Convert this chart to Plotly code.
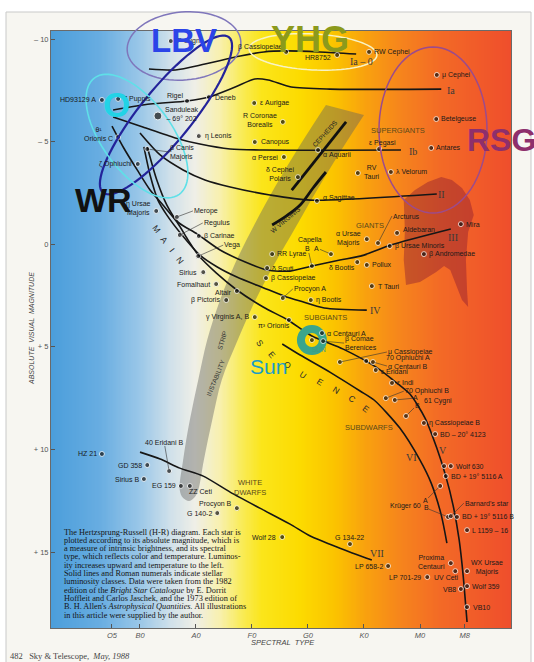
import numpy as np
import plotly.graph_objects as go

W, H = 534, 662
M_L, M_R, M_T, M_B = 51, 23, 31, 34
PW, PH = W - M_L - M_R, H - M_T - M_B
X_RANGE = [-0.589, 7.625]          # spectral index: O=0, B=1, A=2, F=3, G=4, K=5, M=6
Y_RANGE = [18.70, -10.39]          # absolute visual magnitude (reversed)

spec_tickvals = [0.5, 1, 2, 3, 4, 5, 6, 6.8]
spec_ticktext = ["O5", "B0", "A0", "F0", "G0", "K0", "M0", "M8"]
mag_tickvals = [-10, -5, 0, 5, 10, 15]
mag_ticktext = ["– 10", "– 5", "0", "+ 5", "+ 10", "+ 15"]

# ---- luminosity-class lines (spectral index, magnitude) ----
Ia0_x = [1.16, 1.63, 2.16, 2.79, 3.21, 3.61, 4.21, 4.86]
Ia0_y = [-8.54, -8.49, -8.78, -9.17, -9.37, -9.42, -9.37, -9.27]
Ia_x = [0.52, 1.18, 1.84, 2.23, 2.70, 3.05, 3.29, 3.70, 4.39, 6.38]
Ia_y = [-6.54, -6.83, -6.98, -7.17, -7.66, -8.05, -8.00, -7.66, -7.56, -7.56]
Ib_x = [0.52, 1.05, 1.63, 2.07, 2.61, 3.21, 5.66]
Ib_y = [-6.20, -5.71, -5.18, -4.88, -4.64, -4.59, -4.59]
II_x = [1.00, 1.36, 1.77, 2.16, 2.61, 3.32, 4.04, 6.30]
II_y = [-5.42, -4.35, -3.62, -3.13, -2.79, -2.40, -2.15, -2.45]
III_x = [1.13, 1.30, 1.48, 1.68, 2.02, 2.43, 2.88, 3.27, 3.68, 4.07, 4.57, 5.00, 5.48, 6.55]
III_y = [-4.74, -3.13, -1.91, -1.08, -0.50, 0.28, 0.87, 1.26, 1.31, 1.06, 0.77, 0.53, 0.04, -0.74]
IV_x = [1.07, 1.18, 1.32, 1.48, 1.75, 2.07, 2.38, 2.73, 3.21, 3.57, 3.86, 4.29, 5.05]
IV_y = [-4.74, -3.37, -2.15, -1.42, -0.45, 0.53, 1.11, 1.60, 2.13, 2.52, 2.77, 3.11, 3.21]
V_x = [0.50, 0.71, 0.95, 1.18, 1.41, 1.66, 1.86, 2.04, 2.36, 2.73, 3.20, 3.64, 4.07, 4.63,
       5.21, 5.52, 5.82, 6.09, 6.30, 6.46, 6.59, 6.70, 6.77, 6.84]
V_y = [-5.76, -4.69, -3.62, -2.64, -1.91, -1.08, -0.20, 0.53, 1.40, 2.23, 3.06, 3.69, 4.47, 5.11,
       5.98, 6.62, 7.30, 8.47, 9.93, 11.30, 12.71, 14.42, 16.12, 18.41]
VI_x = [3.54, 3.86, 4.39, 4.93, 5.18, 5.64, 6.00, 6.20, 6.38, 6.48]
VI_y = [4.86, 5.40, 6.23, 7.15, 7.59, 8.96, 10.52, 11.64, 13.20, 14.56]
VII_x = [1.00, 1.36, 1.71, 2.13, 2.61, 3.14, 3.68, 4.04, 4.57, 5.14]
VII_y = [10.13, 10.47, 10.91, 11.30, 12.08, 12.86, 13.64, 14.22, 14.81, 15.39]
cepheid_x = [4.68, 3.71]
cepheid_y = [-5.96, -2.64]
wvir_x = [4.32, 4.09, 3.86, 3.61, 3.36]
wvir_y = [-3.52, -2.74, -1.91, -1.37, -0.94]

# ---- instability strip and red-supergiant region outlines ----
strip_x = [4.32, 3.86, 3.43, 3.04, 2.71, 2.43, 2.20, 2.04, 1.89, 1.77, 1.71, 1.77, 1.88, 1.98,
           2.04, 2.14, 2.29, 2.46, 2.73, 3.02, 3.34, 3.70, 4.11, 4.54, 5.00]
strip_y = [-6.78, -4.83, -2.88, -0.94, 0.87, 2.72, 4.67, 6.62, 8.57, 10.52, 11.98, 12.37, 12.51, 12.32,
           11.98, 10.52, 8.57, 6.62, 4.77, 2.96, 1.26, -0.45, -2.40, -4.35, -6.30]
rsg_x = [5.71, 5.91, 6.14, 6.38, 6.57, 6.75, 6.89, 6.96, 6.86, 6.82, 6.84, 6.86, 6.75, 6.64,
         6.54, 6.43, 6.29, 6.00, 5.75, 5.71, 5.73]
rsg_y = [-2.15, -2.64, -3.03, -3.27, -3.13, -2.74, -2.15, -1.42, -0.59, 0.77, 2.23, 3.06, 2.72, 1.99,
         1.26, 1.06, 1.35, 1.84, 1.99, 0.77, -0.69]

# ---- stars ----
star_name = ["HD93129 A", "ζ Puppis", "Rigel", "Deneb", "Sanduleak", "η Leonis", "θ1 Orionis C",
             "β Canis Majoris", "ζ Ophiuchi", "η Ursae Majoris", "Merope", "Regulus", "β Carinae",
             "Vega", "Sirius", "Fomalhaut", "Altair", "β Pictoris", "γ Virginis", "π3 Orionis",
             "ε Aurigae", "R Coronae Borealis", "Canopus", "α Persei", "δ Cephei", "β Cassiopeiae",
             "HR8752", "RW Cephei", "P Cygni", "μ Cephei", "Betelgeuse", "Antares", "ε Pegasi",
             "α Aquarii", "RV Tauri", "λ Velorum", "α Sagittae", "Arcturus", "Aldebaran", "Mira",
             "β Ursae Minoris", "β Andromedae", "α Ursae Majoris", "Capella A", "Capella B",
             "RR Lyrae", "δ Scuti", "β Cassiopeiae F", "δ Bootis", "Pollux", "T Tauri", "Procyon A",
             "η Bootis", "α Centauri A", "Sun", "β Comae", "μ Cassiopeiae", "70 Ophiuchi A",
             "α Centauri B", "ε Eridani", "ε Indi", "70 Ophiuchi B", "61 Cygni A", "61 Cygni B",
             "η Cassiopeiae B", "BD-20 4123", "Wolf 630 A", "Wolf 630", "BD+19 5116 A",
             "Krüger 60 A", "Krüger 60 B", "Barnard's star", "BD+19 5116 B", "L 1159-16",
             "G 134-22", "Wolf 28", "LP 658-2", "Proxima Centauri", "WX Ursae Majoris", "UV Ceti",
             "LP 701-29", "Wolf 359", "VB8", "VB10", "HZ 21", "40 Eridani B", "GD 358", "Sirius B",
             "EG 159", "ZZ Ceti", "Procyon B", "G 140-2"]
star_type = [0.32, 0.61, 1.84, 2.23, 1.32, 2.05, 0.61, 1.13, 0.96, 1.29, 1.66, 1.71, 2.05,
             2.04, 2.13, 2.36, 2.73, 2.54, 3.05, 3.66, 3.04, 3.55, 3.05, 3.57, 3.82, 3.61,
             4.52, 5.09, 1.55, 6.30, 6.29, 6.20, 5.27, 4.18, 4.89, 5.48, 4.16, 5.25, 5.59, 6.73,
             5.46, 6.07, 5.05, 4.41, 4.07, 3.36, 3.27, 3.25, 4.88, 5.05, 5.14, 3.55,
             4.05, 4.25, 4.07, 4.27, 4.57, 5.04, 5.16, 5.21, 5.50, 5.39, 5.55, 5.75,
             6.07, 6.27, 6.43, 6.55, 6.46, 6.36, 6.50, 6.55, 6.66, 6.84,
             4.75, 3.54, 5.43, 6.55, 6.84, 6.63, 6.13, 6.84, 6.73, 6.84, 0.32, 1.52, 1.13, 1.07,
             1.73, 1.89, 2.73, 2.38]
star_mag = [-7.03, -7.08, -6.98, -7.17, -6.25, -5.27, -5.22, -4.64, -3.91, -1.62, -1.33, -0.45, -0.40,
            0.58, 1.36, 1.94, 2.28, 2.72, 3.55, 3.69, -6.88, -5.96, -4.98, -4.25, -3.27, -9.37,
            -9.22, -9.37, -9.90, -8.25, -6.10, -4.69, -4.64, -4.59, -3.47, -3.52, -2.11, -0.06, -0.55, -0.98,
            0.09, 0.48, -0.25, 0.48, 1.06, 0.48, 1.16, 1.65, 0.87, 1.01, 2.04, 2.62,
            2.72, 4.33, 4.67, 4.72, 5.74, 5.69, 5.74, 6.13, 6.76, 7.50, 7.59, 8.37,
            8.71, 9.25, 10.81, 10.81, 11.30, 11.78, 13.29, 13.25, 13.29, 13.93,
            14.61, 14.27, 15.68, 15.54, 15.93, 15.93, 16.22, 16.66, 16.80, 17.68, 10.22, 11.05, 10.76, 11.44,
            11.78, 11.78, 12.86, 13.10]

# label styling: name -> (text, side, dx, dy, arrow ax/ay or None)
LBL = {
    "HD93129 A": ("HD93129 A", "l", -5, 0, None),
    "ζ Puppis": ("ζ Puppis", "r", 5, 0, None),
    "Rigel": ("Rigel", "l", -3, 5, None),
    "Deneb": ("Deneb", "r", 5, 0, None),
    "Sanduleak": ("Sanduleak<br>– 69° 202", "r", 6, 2, None),
    "η Leonis": ("η Leonis", "r", 5, 0, None),
    "θ1 Orionis C": ("θ¹<br>Orionis C", "l", -4, 3, None),
    "β Canis Majoris": ("β Canis<br>Majoris", "r", 0, 0, (22, 3)),
    "ζ Ophiuchi": ("ζ Ophiuchi", "l", -5, 0, None),
    "η Ursae Majoris": ("η Ursae<br>Majoris", "l", -4, 2, None),
    "Merope": ("Merope", "r", 0, 0, (16, -6)),
    "Regulus": ("Regulus", "r", 0, 0, (23, -12)),
    "β Carinae": ("β Carinae", "r", 4, 0, None),
    "Vega": ("Vega", "r", 0, 0, (25, -11)),
    "Sirius": ("Sirius", "l", -5, 0, None),
    "Fomalhaut": ("Fomalhaut", "l", -5, 0, None),
    "Altair": ("Altair", "l", -4, -1, None),
    "β Pictoris": ("β Pictoris", "l", -5, 0, None),
    "γ Virginis": ("γ Virginis A, B", "l", -5, 0, None),
    "π3 Orionis": ("π³ Orionis", "l", 2, -6, None),
    "ε Aurigae": ("ε Aurigae", "r", 5, 0, None),
    "R Coronae Borealis": ("R Coronae<br>Borealis", "l", -5, 2, None),
    "Canopus": ("Canopus", "r", 5, 0, None),
    "α Persei": ("α Persei", "l", -5, 0, None),
    "δ Cephei": ("δ Cephei<br>Polaris", "l", -3, 3, None),
    "β Cassiopeiae": ("β Cassiopeiae", "l", -2, 5, None),
    "HR8752": ("HR8752", "l", -5, -2, None),
    "RW Cephei": ("RW Cephei", "r", 4, 0, None),
    "P Cygni": ("P Cygni", "r", 5, 0, None),
    "μ Cephei": ("μ Cephei", "r", 4, 0, None),
    "Betelgeuse": ("Betelgeuse", "r", 4, 0, None),
    "Antares": ("Antares", "r", 4, 0, None),
    "ε Pegasi": ("ε Pegasi", "c", 3, 6, None),
    "α Aquarii": ("α Aquarii", "r", 4, -5, None),
    "RV Tauri": ("RV<br>Tauri", "r", 5, 1, None),
    "λ Velorum": ("λ Velorum", "r", 4, 0, None),
    "α Sagittae": ("α Sagittae", "r", 5, 3, None),
    "Arcturus": ("Arcturus", "r", 0, 0, (14, -27)),
    "Aldebaran": ("Aldebaran", "r", 5, 3, None),
    "Mira": ("Mira", "r", 4, 0, None),
    "β Ursae Minoris": ("β Ursae Minoris", "r", 4, 0, None),
    "β Andromedae": ("β Andromedae", "r", 4, 0, None),
    "α Ursae Majoris": ("α Ursae<br>Majoris", "l", -5, 1, None),
    "Capella A": ("A", "c", 0, 0, (-14, -6)),
    "Capella B": ("B", "c", 0, 0, (-4, -17)),
    "RR Lyrae": ("RR Lyrae", "r", 4, 0, None),
    "δ Scuti": ("δ Scuti", "r", 4, 0, None),
    "β Cassiopeiae F": ("β Cassiopeiae", "r", 4, 0, None),
    "δ Bootis": ("δ Bootis", "l", -1, -5, None),
    "Pollux": ("Pollux", "r", 4, 0, None),
    "T Tauri": ("T Tauri", "r", 5, 0, None),
    "Procyon A": ("Procyon A", "r", 0, 0, (10, -9)),
    "η Bootis": ("η Bootis", "r", 4, 0, None),
    "α Centauri A": ("α Centauri A", "r", 4, 0, None),
    "β Comae": ("β Comae<br>Berenices", "r", 0, 0, (21, 2)),
    "μ Cassiopeiae": ("μ Cassiopeiae", "r", 0, 0, (47, -10)),
    "70 Ophiuchi A": ("70 Ophiuchi A", "r", 19, 3, None),
    "α Centauri B": ("α Centauri B", "r", 0, 0, (14, 4)),
    "ε Eridani": ("ε Eridani", "r", 4, -1, None),
    "ε Indi": ("ε Indi", "r", 4, 0, None),
    "70 Ophiuchi B": ("70 Ophiuchi B", "r", 0, 0, (18, -7)),
    "61 Cygni A": ("A", "c", 0, 0, (21, -2)),
    "61 Cygni B": ("B", "c", 0, 0, (11, -11)),
    "η Cassiopeiae B": ("η Cassiopeiae B", "r", 4, 0, None),
    "BD-20 4123": ("BD – 20° 4123", "r", 4, 0, None),
    "Wolf 630": ("Wolf 630", "r", 4, 0, None),
    "BD+19 5116 A": ("BD + 19° 5116 A", "r", 4, 0, None),
    "Krüger 60 A": ("A", "c", 0, 0, (-15, 15)),
    "Krüger 60 B": ("B", "c", 0, 0, (-22, -9)),
    "Barnard's star": ("Barnard's star", "r", 0, 0, (13, -13)),
    "BD+19 5116 B": ("BD + 19° 5116 B", "r", 4, 0, None),
    "L 1159-16": ("L 1159 – 16", "r", 4, 0, None),
    "G 134-22": ("G 134-22", "c", 0, 7, None),
    "Wolf 28": ("Wolf 28", "l", -5, 0, None),
    "LP 658-2": ("LP 658-2", "l", -4, 0, None),
    "Proxima Centauri": ("Proxima<br>Centauri", "l", -5, 1, None),
    "WX Ursae Majoris": ("WX Ursae<br>Majoris", "r", 3, 4, None),
    "UV Ceti": ("UV Ceti", "l", 5, -6, None),
    "LP 701-29": ("LP 701-29", "l", -5, 0, None),
    "Wolf 359": ("Wolf 359", "r", 4, 0, None),
    "VB8": ("VB8", "l", -4, 0, None),
    "VB10": ("VB10", "r", 5, 0, None),
    "HZ 21": ("HZ 21", "l", -4, 0, None),
    "40 Eridani B": ("40 Eridani B", "c", 0, 0, (-5, -29)),
    "GD 358": ("GD 358", "l", -4, 0, None),
    "Sirius B": ("Sirius B", "l", -4, 0, None),
    "EG 159": ("EG 159", "l", -4, 0, None),
    "ZZ Ceti": ("ZZ Ceti", "r", -2, -6, None),
    "Procyon B": ("Procyon B", "l", -4, 4, None),
    "G 140-2": ("G 140-2", "l", -4, 0, None),
}
# extra group captions anchored to stars: (star, text, side, dx, dy)
EXTRA = [("Capella B", "Capella", "c", -2, 26), ("61 Cygni A", "61 Cygni", "r", 28, -1),
         ("Krüger 60 B", "Krüger 60", "l", -26, 11)]

# ---- region / class captions (spectral index, magnitude) ----
class_text = ["Ia – 0", "Ia", "Ib", "II", "III", "IV", "V", "VI", "VII"]
class_x = [4.95, 6.55, 5.88, 6.39, 6.59, 5.21, 6.41, 5.84, 5.23]
class_y = [-8.88, -7.51, -4.54, -2.40, -0.35, 3.21, 10.03, 10.37, 15.05]
group_text = ["SUPERGIANTS", "GIANTS", "SUBGIANTS", "SUBDWARFS", "WHITE<br>DWARFS"]
group_x = [5.61, 5.11, 4.32, 5.09, 2.96]
group_y = [-5.52, -0.89, 3.55, 8.91, 11.83]
main_letters = ["M", "A", "I", "N"]
main_x = [1.30, 1.43, 1.57, 1.71]
main_y = [-0.74, -0.20, 0.28, 0.77]
seq_letters = ["S", "E", "Q", "U", "E", "N", "C", "E"]
seq_x = [3.14, 3.36, 3.63, 3.91, 4.21, 4.50, 4.79, 5.04]
seq_y = [4.81, 5.40, 5.89, 6.37, 6.72, 7.11, 7.54, 8.03]

caption = [
    "The Hertzsprung-Russell (H-R) diagram. Each star is",
    "plotted according to its absolute magnitude, which is",
    "a measure of intrinsic brightness, and its spectral",
    "type, which reflects color and temperature. Luminos-",
    "ity increases upward and temperature to the left.",
    "Solid lines and Roman numerals indicate stellar",
    "luminosity classes. Data were taken from the 1982",
    "edition of the <i>Bright Star Catalogue</i> by E. Dorrit",
    "Hoffleit and Carlos Jaschek, and the 1973 edition of",
    "B. H. Allen's <i>Astrophysical Quantities.</i> All illustrations",
    "in this article were supplied by the author.",
]

# ---------------------------------------------------------------


def to_paper(x, y):
    return (x - X_RANGE[0]) / (X_RANGE[1] - X_RANGE[0]), (y - Y_RANGE[0]) / (Y_RANGE[1] - Y_RANGE[0])


def px_paper(px, py):
    return (px - M_L) / PW, (H - M_B - py) / PH


def ellipse_path(cx, cy, rx, ry, ang):
    xp0, yp0 = to_paper(cx, cy)
    t = np.linspace(0, 2 * np.pi, 81)
    a = np.radians(ang)
    dx = rx * np.cos(t) * np.cos(a) - ry * np.sin(t) * np.sin(a)
    dy = rx * np.cos(t) * np.sin(a) + ry * np.sin(t) * np.cos(a)
    xs = xp0 + dx / PW
    ys = yp0 - dy / PH
    return "M " + " L ".join(f"{x:.5f},{y:.5f}" for x, y in zip(xs, ys)) + " Z"


fig = go.Figure()

# background colour gradient
bg_stop_x = [-0.589, 0.286, 1.0, 1.536, 1.982, 2.429, 2.786, 3.179, 3.857, 4.482, 5.018, 5.643, 6.357, 7.625]
bg_stop_c = ["#4b9edb", "#68ade1", "#9ac7e8", "#cfe0ea", "#efefe7", "#f8f0ae", "#f9ec5e", "#fbe51a",
             "#fcdb00", "#fbc300", "#f9a20e", "#f6851c", "#f36a26", "#ef4e2c"]
bg_scale = [[(v - X_RANGE[0]) / (X_RANGE[1] - X_RANGE[0]), c] for v, c in zip(bg_stop_x, bg_stop_c)]
bg_x = np.linspace(X_RANGE[0], X_RANGE[1], 400)
fig.add_trace(go.Heatmap(x=bg_x, y=[Y_RANGE[1], Y_RANGE[0]], z=[bg_x, bg_x], colorscale=bg_scale,
                         zmin=X_RANGE[0], zmax=X_RANGE[1], showscale=False, hoverinfo="skip"))

fig.add_trace(go.Scatter(x=strip_x, y=strip_y, fill="toself", fillcolor="rgba(95,95,95,0.42)",
                         mode="lines", line=dict(width=0, shape="spline"), hoverinfo="skip"))
fig.add_trace(go.Scatter(x=rsg_x, y=rsg_y, fill="toself", fillcolor="rgba(135,25,50,0.42)",
                         mode="lines", line=dict(width=0), hoverinfo="skip"))

for lx, ly in [(Ia0_x, Ia0_y), (Ia_x, Ia_y), (Ib_x, Ib_y), (II_x, II_y), (III_x, III_y),
               (IV_x, IV_y), (V_x, V_y), (VI_x, VI_y), (VII_x, VII_y)]:
    fig.add_trace(go.Scatter(x=lx, y=ly, mode="lines", hoverinfo="skip",
                             line=dict(color="#161616", width=1.6, shape="spline", smoothing=0.7)))
for lx, ly in [(cepheid_x, cepheid_y), (wvir_x, wvir_y)]:
    fig.add_trace(go.Scatter(x=lx, y=ly, mode="lines", hoverinfo="skip",
                             line=dict(color="#111", width=2.8, shape="spline")))

# Sun ring
si = star_name.index("Sun")
fig.add_trace(go.Scatter(x=[star_type[si]], y=[star_mag[si]], mode="markers", hoverinfo="skip",
                         marker=dict(symbol="circle-open", size=22, color="#3aa58c", line=dict(width=8))))
# stars
sizes = [8 if n == "Sanduleak" else 5 for n in star_name]
fig.add_trace(go.Scatter(x=star_type, y=star_mag, mode="markers", text=star_name, hoverinfo="text",
                         marker=dict(size=sizes, color="#111")))

LF = dict(family="Liberation Sans, Arial, sans-serif", size=7, color="#1a1a1a")
XA = {"r": "left", "l": "right", "c": "center"}
for n, x, y in zip(star_name, star_type, star_mag):
    if n not in LBL:
        continue
    text, side, dx, dy, arr = LBL[n]
    if arr:
        fig.add_annotation(x=x, y=y, text=text, showarrow=True, arrowhead=0, arrowwidth=0.6,
                           arrowcolor="#333", ax=arr[0], ay=arr[1], xanchor=XA[side], standoff=2,
                           font=LF, align="left", borderpad=0)
    else:
        fig.add_annotation(x=x, y=y, text=text, showarrow=False, xanchor=XA[side], xshift=dx, yshift=dy,
                           font=LF, align="center", borderpad=0)
for n, text, side, dx, dy in EXTRA:
    i = star_name.index(n)
    fig.add_annotation(x=star_type[i], y=star_mag[i], text=text, showarrow=False, xanchor=XA[side],
                       xshift=dx, yshift=dy, font=LF, borderpad=0)
fig.add_annotation(x=4.196, y=5.11, text="SUN", showarrow=False,
                   font=dict(family="Liberation Sans", size=6.5, color="#3f9a82"))

SERIF = "Liberation Serif, Times New Roman, serif"
for t, x, y in zip(class_text, class_x, class_y):
    fig.add_annotation(x=x, y=y, text=t, showarrow=False, font=dict(family=SERIF, size=10, color="#3a3a3a"))
for t, x, y in zip(group_text, group_x, group_y):
    fig.add_annotation(x=x, y=y, text=t, showarrow=False,
                       font=dict(family="Liberation Sans", size=7.5, color="#5a4a1a"))
for t, x, y in zip(main_letters, main_x, main_y):
    fig.add_annotation(x=x, y=y, text=t, showarrow=False, textangle=52,
                       font=dict(family="Liberation Sans", size=8.5, color="#2a2a2a"))
seq_ang = [55, 50, 42, 35, 32, 32, 35, 38]
for t, x, y, a in zip(seq_letters, seq_x, seq_y, seq_ang):
    fig.add_annotation(x=x, y=y, text=t, showarrow=False, textangle=a,
                       font=dict(family="Liberation Sans", size=8.5, color="#2a2a2a"))
fig.add_annotation(x=2.34, y=6.52, text="INSTABILITY", showarrow=False, textangle=-68,
                   font=dict(family="Liberation Sans", size=6.5, color="#333"))
fig.add_annotation(x=2.46, y=4.67, text="STRIP", showarrow=False, textangle=-73,
                   font=dict(family="Liberation Sans", size=6.5, color="#333"))
fig.add_annotation(x=4.30, y=-5.40, text="CEPHEIDS", showarrow=False, textangle=-48,
                   font=dict(family="Liberation Sans", size=6.5, color="#222"))
fig.add_annotation(x=3.60, y=-1.20, text="W VIRGINIS", showarrow=False, textangle=-40,
                   font=dict(family="Liberation Sans", size=6.5, color="#222"))

# overlay highlight ellipses
ell = [(1.786, -9.66, 57, 34, -5, "#7f76bb", 1.5),
       (1.464, -6.30, 100, 26, -51, "#23239a", 2.2),
       (0.946, -5.27, 72, 35, 54, "#5fe0e8", 1.6),
       (4.089, -9.37, 64, 18, 3, "#f8f3c4", 1.5),
       (6.232, -5.57, 54, 83, 0, "#9c4b8c", 1.5)]
shapes = []
for cx, cy, rx, ry, a, col, w in ell:
    shapes.append(dict(type="path", xref="paper", yref="paper", path=ellipse_path(cx, cy, rx, ry, a),
                       line=dict(color=col, width=w), layer="above"))

# page rectangle
x0, y1 = px_paper(6, 12)
x1, y0 = px_paper(531, 680)
shapes.append(dict(type="rect", xref="paper", yref="paper", x0=x0, x1=x1, y0=y0, y1=y1,
                   fillcolor="#f7f6f1", line=dict(color="#c9c9c9", width=1), layer="below"))

BOLD = "Liberation Sans, Arial, sans-serif"
fig.add_annotation(x=1.786, y=-9.95, text="<b>LBV</b>", showarrow=False, font=dict(family=BOLD, size=33, color="#2b44e8"))
fig.add_annotation(x=4.036, y=-10.0, text="<b>YHG</b>", showarrow=False, font=dict(family=BOLD, size=36, color="#8c9a1c"))
fig.add_annotation(x=7.464, y=-5.08, text="<b>RSG</b>", showarrow=False, font=dict(family=BOLD, size=32, color="#8e2f6c"))
fig.add_annotation(x=0.357, y=-2.15, text="<b>WR</b>", showarrow=False, font=dict(family=BOLD, size=34, color="#111"))
fig.add_annotation(x=0.589, y=-6.83, text="<b>O</b>", showarrow=False, font=dict(family=BOLD, size=35, color="#22d3e6"))
fig.add_annotation(x=3.286, y=5.94, text="Sun", showarrow=False, font=dict(family=BOLD, size=21, color="#1a9dc4"))

# caption block
for i, line in enumerate(caption):
    cx, cy = px_paper(62, 532 + 8.3 * i)
    fig.add_annotation(x=cx, y=cy, xref="paper", yref="paper", text=line, showarrow=False,
                       xanchor="left", yanchor="middle", font=dict(family=SERIF, size=8.3, color="#151515"))

# axis titles & footer
ax_, ay_ = px_paper(31, 329)
fig.add_annotation(x=ax_, y=ay_, xref="paper", yref="paper", text="<i>ABSOLUTE  VISUAL  MAGNITUDE</i>",
                   showarrow=False, textangle=-90, xanchor="center", yanchor="middle",
                   font=dict(family="Liberation Sans", size=7, color="#444"))
tx, ty = px_paper(283, 642)
fig.add_annotation(x=tx, y=ty, xref="paper", yref="paper", text="<i>SPECTRAL  TYPE</i>",
                   showarrow=False, xanchor="center", yanchor="middle",
                   font=dict(family="Liberation Sans", size=7.5, color="#444"))
fx, fy = px_paper(8, 656)
fig.add_annotation(x=fx, y=fy, xref="paper", yref="paper", xanchor="left", yanchor="middle",
                   text="482   Sky & Telescope,  <i>May, 1988</i>", showarrow=False,
                   font=dict(family=SERIF, size=8.5, color="#444"))

fig.update_layout(
    width=W, height=H, autosize=False, showlegend=False,
    margin=dict(l=M_L, r=M_R, t=M_T, b=M_B, pad=0),
    paper_bgcolor="#ffffff", plot_bgcolor="#ffffff",
    shapes=shapes,
    xaxis=dict(range=X_RANGE, tickvals=spec_tickvals, ticktext=[f"<i>{t}</i>" for t in spec_ticktext],
               ticks="inside", ticklen=4, tickcolor="#555", showline=True, linecolor="#6a6a6a",
               linewidth=1, mirror=True, showgrid=False, zeroline=False,
               tickfont=dict(family="Liberation Sans", size=7.5, color="#555")),
    yaxis=dict(range=Y_RANGE, tickvals=mag_tickvals, ticktext=mag_ticktext,
               ticks="inside", ticklen=4, tickcolor="#555", showline=True, linecolor="#6a6a6a",
               linewidth=1, mirror=True, showgrid=False, zeroline=False,
               tickfont=dict(family="Liberation Sans", size=7.5, color="#555")),
)

fig.write_html("out.html")
